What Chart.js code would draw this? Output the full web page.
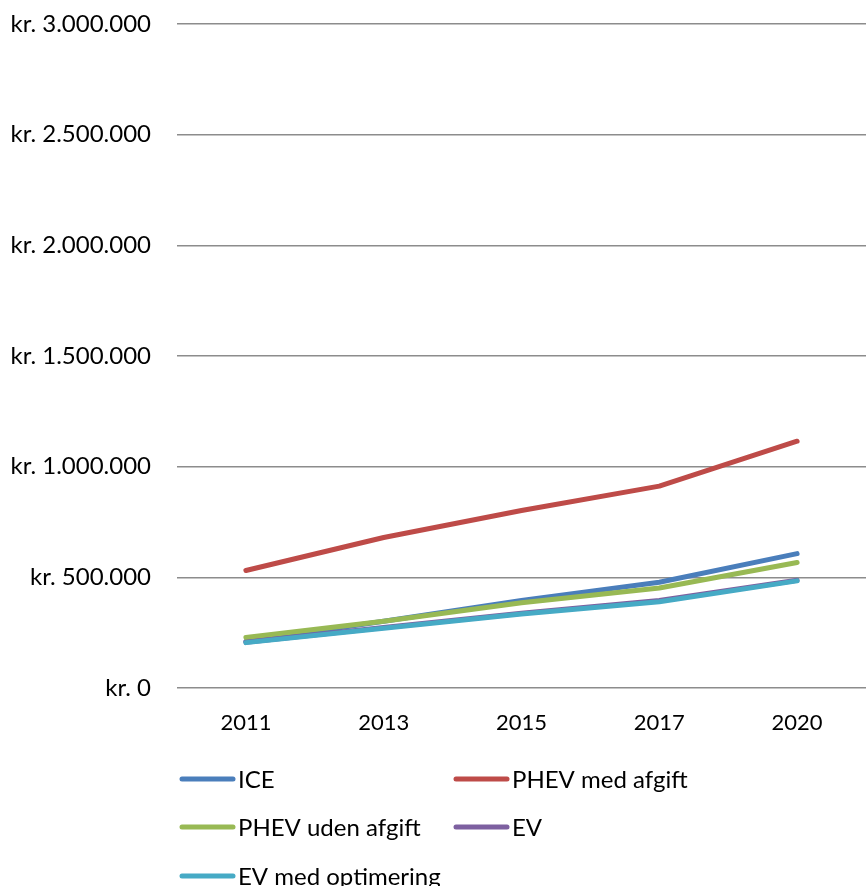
<!DOCTYPE html>
<html>
<head>
<meta charset="utf-8">
<script src="https://cdn.jsdelivr.net/npm/chart.js@4.4.1/dist/chart.umd.min.js"></script>
<style>
  html, body { margin: 0; padding: 0; background: #fff; }
  #wrap { position: relative; width: 866px; height: 886px; }
</style>
</head>
<body>
<div id="wrap"><canvas id="chart"></canvas></div>
<script>
// Årstal og samlede omkostninger (kr.) pr. teknologi
const years = ['2011', '2013', '2015', '2017', '2020'];
const ice = [210000, 302000, 396000, 478000, 607000];
const phevMedAfgift = [531000, 680000, 802000, 912000, 1115000];
const phevUdenAfgift = [228000, 302000, 385000, 452000, 567000];
const ev = [207000, 273000, 338000, 395000, 487000];
const evOptimering = [205000, 270000, 334000, 390000, 484000];
const yTicks = [0, 500000, 1000000, 1500000, 2000000, 2500000, 3000000];

const FONT = 'Lato, "Open Sans", sans-serif';

function kr(v) {
  return 'kr. ' + String(v).replace(/\B(?=(\d{3})+(?!\d))/g, '.');
}

// senere serier tegnes ovenpå tidligere
function serie(label, data, color, i) {
  return {
    label: label,
    data: data,
    borderColor: color,
    backgroundColor: color,
    borderWidth: 5,
    borderCapStyle: 'round',
    borderJoinStyle: 'round',
    pointRadius: 0,
    tension: 0,
    order: 10 - i
  };
}

// Forklaring i to kolonner under diagrammet
const legendPlugin = {
  id: 'toKolonner',
  afterDraw(chart) {
    const ctx = chart.ctx;
    const cols = [179, 453];
    const rows = [779, 827, 876];
    ctx.save();
    ctx.font = '24px ' + FONT;
    ctx.textBaseline = 'middle';
    chart.data.datasets.forEach((ds, i) => {
      const x = cols[i % 2];
      const y = rows[Math.floor(i / 2)];
      ctx.strokeStyle = ds.borderColor;
      ctx.lineWidth = 5;
      ctx.lineCap = 'round';
      ctx.beginPath();
      ctx.moveTo(x + 3, y);
      ctx.lineTo(x + 54, y);
      ctx.stroke();
      ctx.fillStyle = '#000';
      ctx.fillText(ds.label, x + 59, y + 1);
    });
    ctx.restore();
  }
};

new Chart(document.getElementById('chart'), {
  type: 'line',
  data: {
    labels: years,
    datasets: [
      serie('ICE', ice, '#4a7ebb', 0),
      serie('PHEV med afgift', phevMedAfgift, '#be4b48', 1),
      serie('PHEV uden afgift', phevUdenAfgift, '#98b954', 2),
      serie('EV', ev, '#7d60a0', 3),
      serie('EV med optimering', evOptimering, '#46aac5', 4)
    ]
  },
  options: {
    responsive: true,
    maintainAspectRatio: false,
    animation: false,
    layout: { padding: { top: 10, right: 0, left: 0, bottom: 0 } },
    plugins: {
      legend: { display: false },
      tooltip: { enabled: false }
    },
    scales: {
      x: {
        offset: true,
        grid: { display: false },
        border: { display: false },
        ticks: { color: '#000', font: { family: FONT, size: 22 }, padding: 14 },
        afterFit(scale) { scale.height = 198; }
      },
      y: {
        min: 0,
        max: 3000000,
        afterBuildTicks(scale) { scale.ticks = yTicks.map(v => ({ value: v })); },
        grid: { color: '#8c8c8c', lineWidth: 1.5, drawTicks: false },
        border: { display: false },
        ticks: {
          color: '#000',
          font: { family: FONT, size: 24 },
          padding: 26,
          callback: v => kr(v)
        },
        afterFit(scale) {
          scale.width = 177;
          scale.paddingTop = 24;
        }
      }
    }
  },
  plugins: [legendPlugin]
});
</script>
</body>
</html>
